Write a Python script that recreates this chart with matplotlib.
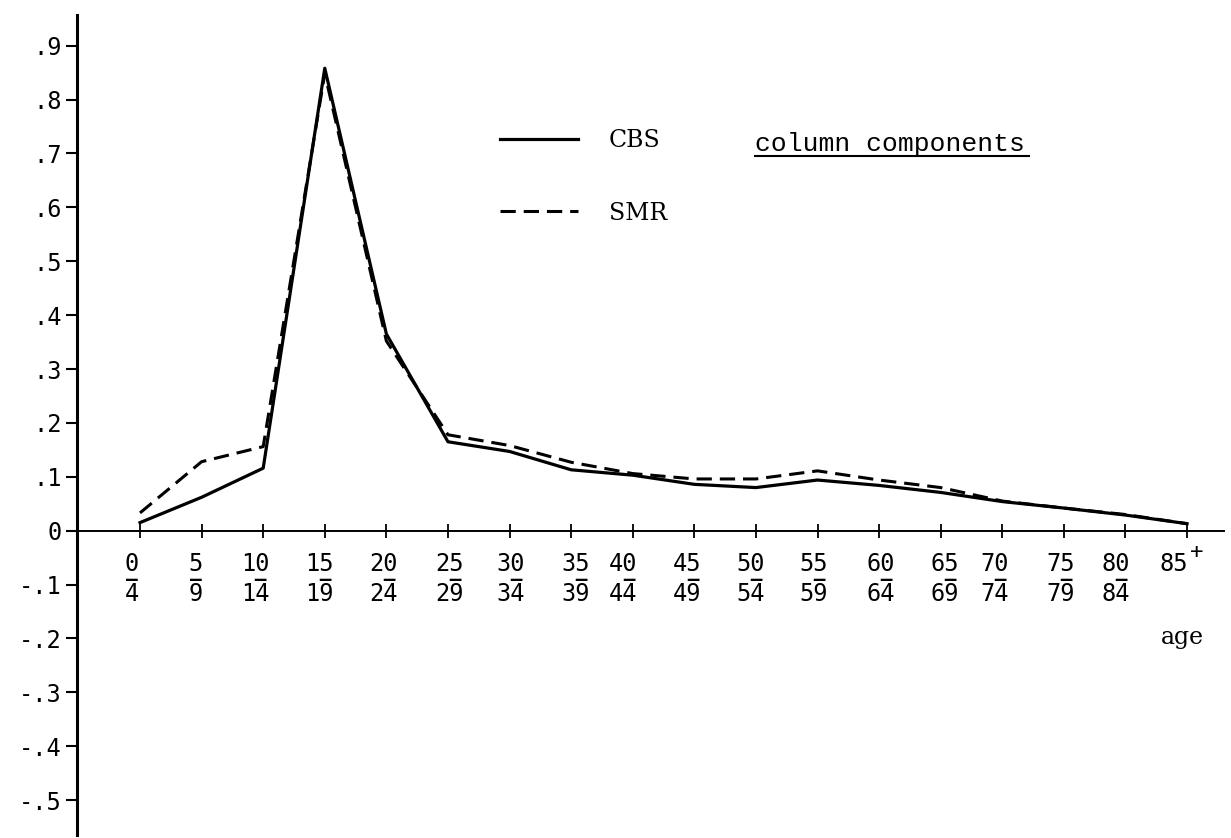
import numpy as np
import matplotlib
matplotlib.use("Agg")
from matplotlib import pyplot as plt
from matplotlib.lines import Line2D

W, H, DPI = 1231, 838, 100

# age groups (lower / upper bound typed under each tick)
age_low  = ["0", "5", "10", "15", "20", "25", "30", "35", "40", "45",
            "50", "55", "60", "65", "70", "75", "80", "85"]
age_high = ["4", "9", "14", "19", "24", "29", "34", "39", "44", "49",
            "54", "59", "64", "69", "74", "79", "84", ""]

# column components
cbs = [0.015, 0.062, 0.116, 0.858, 0.365, 0.165, 0.147, 0.113, 0.103, 0.086,
       0.080, 0.094, 0.084, 0.071, 0.054, 0.042, 0.029, 0.013]
smr = [0.033, 0.128, 0.156, 0.848, 0.352, 0.178, 0.158, 0.127, 0.106, 0.096,
       0.096, 0.111, 0.094, 0.080, 0.055, 0.042, 0.030, 0.013]

ytick_vals = [0.9, 0.8, 0.7, 0.6, 0.5, 0.4, 0.3, 0.2, 0.1, 0.0,
              -0.1, -0.2, -0.3, -0.4, -0.5]
ytick_text = [".9", ".8", ".7", ".6", ".5", ".4", ".3", ".2", ".1", "0",
              "-.1", "-.2", "-.3", "-.4", "-.5"]

# typewriter didn't hit the ticks exactly; small horizontal shifts of the labels
label_shift = [-0.13, -0.10, -0.13, -0.08, -0.05, 0.03, 0.02, 0.08, -0.15, -0.11,
               -0.08, -0.06, 0.03, 0.06, -0.13, -0.05, -0.16, -0.21]

TICKFONT = "DejaVu Sans Mono"
TYPEFONT = "DejaVu Serif"
MONOFONT = "Liberation Mono"

fig = plt.figure(figsize=(W / DPI, H / DPI), dpi=DPI)
ax = fig.add_axes([77 / W, 3 / H, (1224 - 77) / W, (835 - 15) / H])

x = np.arange(len(age_low))
l1, = ax.plot(x, cbs, color="black", lw=2.3, solid_joinstyle="round", label="CBS")
l2, = ax.plot(x, smr, color="black", lw=2.2, dashes=(5, 2.6), label="SMR")

ax.set_xlim(-1.023, 17.6)
ax.set_ylim(-0.5646, 0.9568)

for s in ["top", "right"]:
    ax.spines[s].set_visible(False)
ax.spines["bottom"].set_position(("data", 0))
ax.spines["bottom"].set_linewidth(1.4)
ax.spines["left"].set_linewidth(2.2)

ax.set_yticks(ytick_vals)
ax.set_yticklabels(ytick_text, fontsize=17, family=TICKFONT)
ax.tick_params(axis="y", direction="out", length=8, width=1.5, pad=3)

ax.set_xticks(x)
ax.set_xticklabels([])
ax.tick_params(axis="x", direction="inout", length=10, width=1.3)

# two-row age labels with the little bar between them
for i, (lo, hi) in enumerate(zip(age_low, age_high)):
    xp = x[i] + label_shift[i]
    ax.text(xp, -0.062, lo, ha="center", va="center", fontsize=17, family=TICKFONT)
    if hi:
        ax.text(xp, -0.118, hi, ha="center", va="center", fontsize=17, family=TICKFONT)
        bar = " " * (len(lo) - 1) + "\u2013"
        ax.text(xp, -0.091, bar, ha="center", va="center", fontsize=14,
                family=TICKFONT, fontweight="bold")
ax.annotate("+", xy=(x[-1] + label_shift[-1], -0.062), xytext=(16, 9),
            textcoords="offset points", ha="center", va="center",
            fontsize=16, family=TICKFONT)
ax.text(x[-1] - 0.08, -0.198, "age", ha="center", va="center",
        fontsize=17, family=TYPEFONT)

leg = ax.legend(handles=[l1, l2], loc="upper left",
                bbox_to_anchor=(500 / W, 1 - 129 / H), bbox_transform=fig.transFigure,
                frameon=False, borderpad=0, borderaxespad=0,
                handlelength=3.3, handletextpad=1.3, labelspacing=2.1,
                prop={"family": TYPEFONT, "size": 17})

# underlined heading
title = fig.text(755 / W, 1 - 151 / H, "column components", ha="left", va="baseline",
                 fontsize=19, family=MONOFONT)
fig.canvas.draw()
bb = title.get_window_extent()
fig.add_artist(Line2D([bb.x0 / W, (bb.x1 + 4) / W], [1 - 156 / H, 1 - 156 / H],
                      transform=fig.transFigure, color="black", lw=1.5))

fig.savefig("out.png", dpi=DPI, facecolor="white")
